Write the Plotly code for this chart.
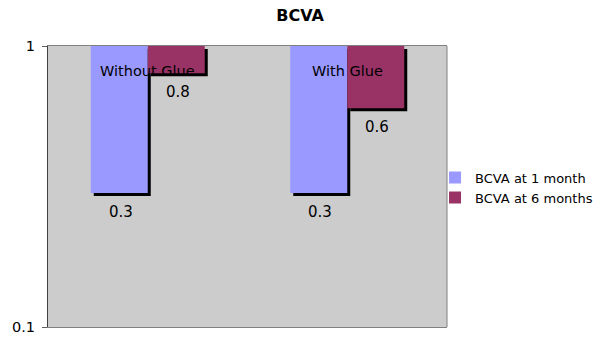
import math
import plotly.graph_objects as go

categories = ["Without Glue", "With Glue"]
series_names = ["BCVA at 1 month", "BCVA at 6 months"]
bcva_1_month = [0.3, 0.3]
bcva_6_months = [0.8, 0.6]
y_tick_vals = [0.1, 1]
y_tick_text = ["0.1", "1"]

colors = ["#9999FF", "#993366"]
series_vals = [bcva_1_month, bcva_6_months]

x_pos = list(range(len(categories)))
bar_w = 0.2857
offsets = [-bar_w, 0.0]
px_x = 399 / 2.0          # pixels per category unit
shadow_dx = 3 / px_x
shadow_f = 10 ** (-3 / 281.0)
top = 1.0
FONT = "DejaVu Sans"

fig = go.Figure()

# shadows
for vals, off in zip(series_vals, offsets):
    fig.add_trace(go.Bar(
        x=x_pos, base=[v * shadow_f for v in vals],
        y=[top * shadow_f - v * shadow_f for v in vals],
        width=bar_w, offset=off + shadow_dx,
        marker=dict(color="black", line=dict(width=0)),
        showlegend=False, hoverinfo="skip"))

# bars
for name, vals, off, c in zip(series_names, series_vals, offsets, colors):
    fig.add_trace(go.Bar(
        x=x_pos, base=vals, y=[top - v for v in vals],
        width=bar_w, offset=off, name=name,
        marker=dict(color=c, line=dict(width=0))))

annotations = []
for vals, off in zip(series_vals, offsets):
    for xi, v in zip(x_pos, vals):
        annotations.append(dict(
            x=xi + off + bar_w / 2 + 0.008, y=math.log10(v), xref="x", yref="y",
            text=str(v), showarrow=False, yanchor="top", yshift=-8,
            font=dict(family=FONT, size=15, color="black")))
for xi, cat in zip(x_pos, categories):
    annotations.append(dict(
        x=xi, y=0, xref="x", yref="y", text=cat, showarrow=False,
        yanchor="middle", yshift=-25,
        font=dict(family=FONT, size=14.5, color="black")))

fig.update_layout(
    width=600, height=344,
    margin=dict(l=48, r=153, t=46, b=17, autoexpand=False),
    paper_bgcolor="white", plot_bgcolor="#CCCCCC",
    barmode="overlay",
    title=dict(text="<b>BCVA</b>", x=0.5, xanchor="center", y=0.956, yanchor="middle",
               font=dict(family=FONT, size=16, color="black")),
    font=dict(family=FONT, size=14, color="black"),
    xaxis=dict(range=[-0.5, 1.5], showticklabels=False, ticks="",
               showgrid=False, zeroline=False, showline=True,
               linecolor="#808080", linewidth=1, mirror=True),
    yaxis=dict(type="log", range=[-1, 0], tickvals=y_tick_vals, ticktext=y_tick_text,
               ticks="outside", ticklen=5, tickcolor="#606060",
               ticklabelstandoff=4,
               showgrid=False, zeroline=False, showline=True,
               linecolor="#404040", linewidth=1,
               tickfont=dict(family=FONT, size=14.5)),
    legend=dict(x=0.97, y=0.496, xanchor="left", yanchor="middle",
                font=dict(family=FONT, size=13),
                bgcolor="rgba(0,0,0,0)", itemwidth=30, tracegroupgap=0),
    annotations=annotations,
    shapes=[dict(type="line", xref="paper", yref="paper", x0=1, x1=1, y0=0, y1=1,
                 line=dict(color="#808080", width=1))],
)

fig.write_html("out.html", config={"displayModeBar": False},
               post_script="document.body.style.margin='0';")
